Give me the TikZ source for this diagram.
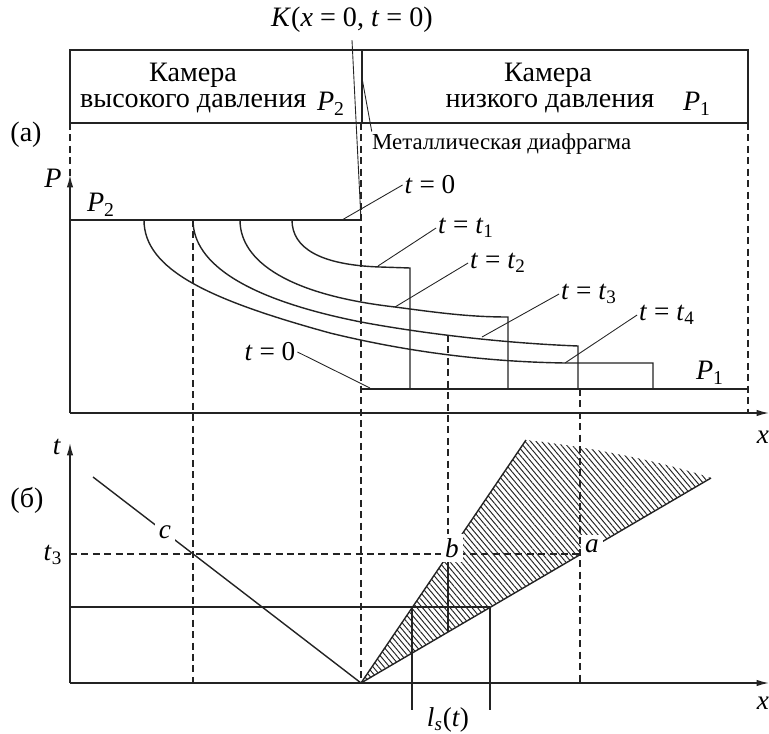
\documentclass[tikz,border=0pt]{standalone}
\usepackage{fontspec}
\setmainfont{Liberation Serif}
\usepackage{tikz}
\usetikzlibrary{arrows.meta, patterns.meta, positioning, calc}
\definecolor{mydark}{RGB}{35,35,35}
\tikzset{
  axis/.style={-{Latex[length=7pt,width=3.6pt]}, line width=0.75pt, color=mydark},
  thinline/.style={line width=0.8pt, color=mydark},
  thickline/.style={line width=1.2pt, color=mydark},
  guide/.style={dash pattern=on 4pt off 2.5pt, line width=0.6pt, color=mydark},
  leader/.style={line width=0.5pt, color=mydark},
  lbl/.style={font=\fontsize{15.5}{17}\selectfont, inner sep=1pt},
  boxlbl/.style={font=\fontsize{16}{18}\selectfont, inner sep=1pt},
  smalllbl/.style={font=\fontsize{13}{15}\selectfont, inner sep=1pt},
  pointlbl/.style={lbl, fill=white, inner sep=2.5pt},
  hatch/.style={pattern={Lines[angle=-50, distance=2.4pt, line width=0.55pt]},
    pattern color=mydark}
}
\newcommand{\vr}[1]{\textit{#1}}

\begin{document}
\begin{tikzpicture}[x=0.02cm, y=-0.02cm]
  \useasboundingbox (0,0) rectangle (769,734);

  % points of the two graphs
  \coordinate (Pzero) at (70,413);
  \coordinate (Tzero) at (70,683);
  \coordinate (burst) at (361,220);
  \coordinate (orig) at (361,683);
  \coordinate (btop) at (526,440);
  \coordinate (aend) at (711,478);
  \coordinate (cend) at (93,477);
  \coordinate (bpt) at (448,554);
  \coordinate (apt) at (580,554);

  % chambers
  \draw[thinline] (70,50) rectangle (748,123);
  \draw[thinline] (362,50) -- (362,123);
  \node[boxlbl] (hiname) at (193,75) {Камера};
  \node[boxlbl, anchor=west] (hipress) at (78,104) {высокого давления};
  \node[boxlbl] (hiP) at (331,104) {\vr{P}\textsubscript{2}};
  \node[boxlbl] (loname) at (548,75) {Камера};
  \node[boxlbl] (lopress) at (550,104) {низкого давления};
  \node[boxlbl] (loP) at (697,104) {\vr{P}\textsubscript{1}};
  \node[boxlbl] (Klbl) at (352,20) {\vr{K}(\vr{x} = 0, \vr{t} = 0)};
  \draw[leader] ([yshift=-3pt]Klbl.south) -- (burst);
  \node[smalllbl, anchor=west] (diaph) at (370,144) {Металлическая диафрагма};
  \draw[leader] (362,78) -- ([xshift=1pt]diaph.north west);

  % (a) pressure profiles
  \node[boxlbl] (parta) at (26,135) {(а)};
  \draw[guide] (70,123) -- (70,176);
  \draw[axis] (Pzero) -- (70,175);
  \draw[axis] (Pzero) -- (769,413);
  \node[boxlbl] (Plbl) at (53,178) {\vr{P}};
  \node[lbl] (xup) at (763,437) {\vr{x}};
  \draw[thickline] (70,220) -- (burst);
  \draw[thickline] (362,389) -- (748,389);
  \node[boxlbl] (P2lbl) at (101,205) {\vr{P}\textsubscript{2}};
  \node[boxlbl] (P1lbl) at (710,373) {\vr{P}\textsubscript{1}};
  \draw[thinline] (292,220) .. controls (292,248) and (320,265) .. (380,267) -- (410,268) -- (410,389);
  \draw[thinline] (240,220) .. controls (240,262) and (290,295) .. (395,307)
    .. controls (440,313) and (470,317) .. (508,317) -- (508,389);
  \draw[thinline] (193,220) .. controls (193,265) and (250,300) .. (361,322)
    .. controls (420,333) and (500,343) .. (578,346) -- (578,389);
  \draw[thinline] (144,220) .. controls (144,270) and (210,300) .. (330,333)
    .. controls (420,355) and (500,362) .. (565,363) -- (653,363) -- (653,389);
  \node[lbl] (t0up) at (430,185) {\vr{t} = 0};
  \node[lbl] (t1lbl) at (466,228) {\vr{t} = \vr{t}\textsubscript{1}};
  \node[lbl] (t2lbl) at (498,263) {\vr{t} = \vr{t}\textsubscript{2}};
  \node[lbl] (t3lbl) at (589,294) {\vr{t} = \vr{t}\textsubscript{3}};
  \node[lbl] (t4lbl) at (667,315) {\vr{t} = \vr{t}\textsubscript{4}};
  \node[lbl] (t0lo) at (270,352) {\vr{t} = 0};
  \draw[leader] (342,220) -- (t0up.west);
  \draw[leader] (378,266) -- (t1lbl.west);
  \draw[leader] (395,307) -- (t2lbl.west);
  \draw[leader] (482,337) -- (t3lbl.west);
  \draw[leader] (565,363) -- (t4lbl.west);
  \draw[leader] (t0lo.east) -- (370,388);

  % guides between the graphs
  \draw[guide] (193,220) -- (193,683);
  \draw[guide] (361,123) -- (orig);
  \draw[guide] (448,335) -- (bpt);
  \draw[guide] (580,389) -- (580,683);
  \draw[guide] (748,123) -- (748,413);

  % (b) x-t diagram
  \fill[hatch] (orig) -- (btop) .. controls (600,448) and (670,464) .. (aend) -- cycle;
  \node[boxlbl] (partb) at (27,500) {(б)};
  \draw[axis] (Tzero) -- (70,443);
  \draw[axis] (Tzero) -- (769,683);
  \node[lbl] (tlbl) at (57,447) {\vr{t}};
  \node[lbl] (xlo) at (763,703) {\vr{x}};
  \draw[thinline] (orig) -- (btop);
  \draw[thinline] (orig) -- (aend);
  \draw[thinline] (orig) -- (cend);
  \draw[guide] (70,554) -- (apt);
  \draw[thinline] (bpt) -- (448,632);
  \draw[thinline] (70,607) -- (490,607);
  \draw[thinline] (412,607) -- (412,710);
  \draw[thinline] (490,607) -- (490,710);
  \node[lbl] (t3ax) at (53,555) {\vr{t}\textsubscript{3}};
  \node[pointlbl] (clbl) at (165,532) {\vr{c}};
  \node[pointlbl] (blbl) at (452,548) {\vr{b}};
  \node[pointlbl] (albl) at (592,546) {\vr{a}};
  \node[lbl] (lslbl) at (448,720) {\vr{l}\textsubscript{\vr{s}}(\vr{t})};
\end{tikzpicture}
\end{document}
